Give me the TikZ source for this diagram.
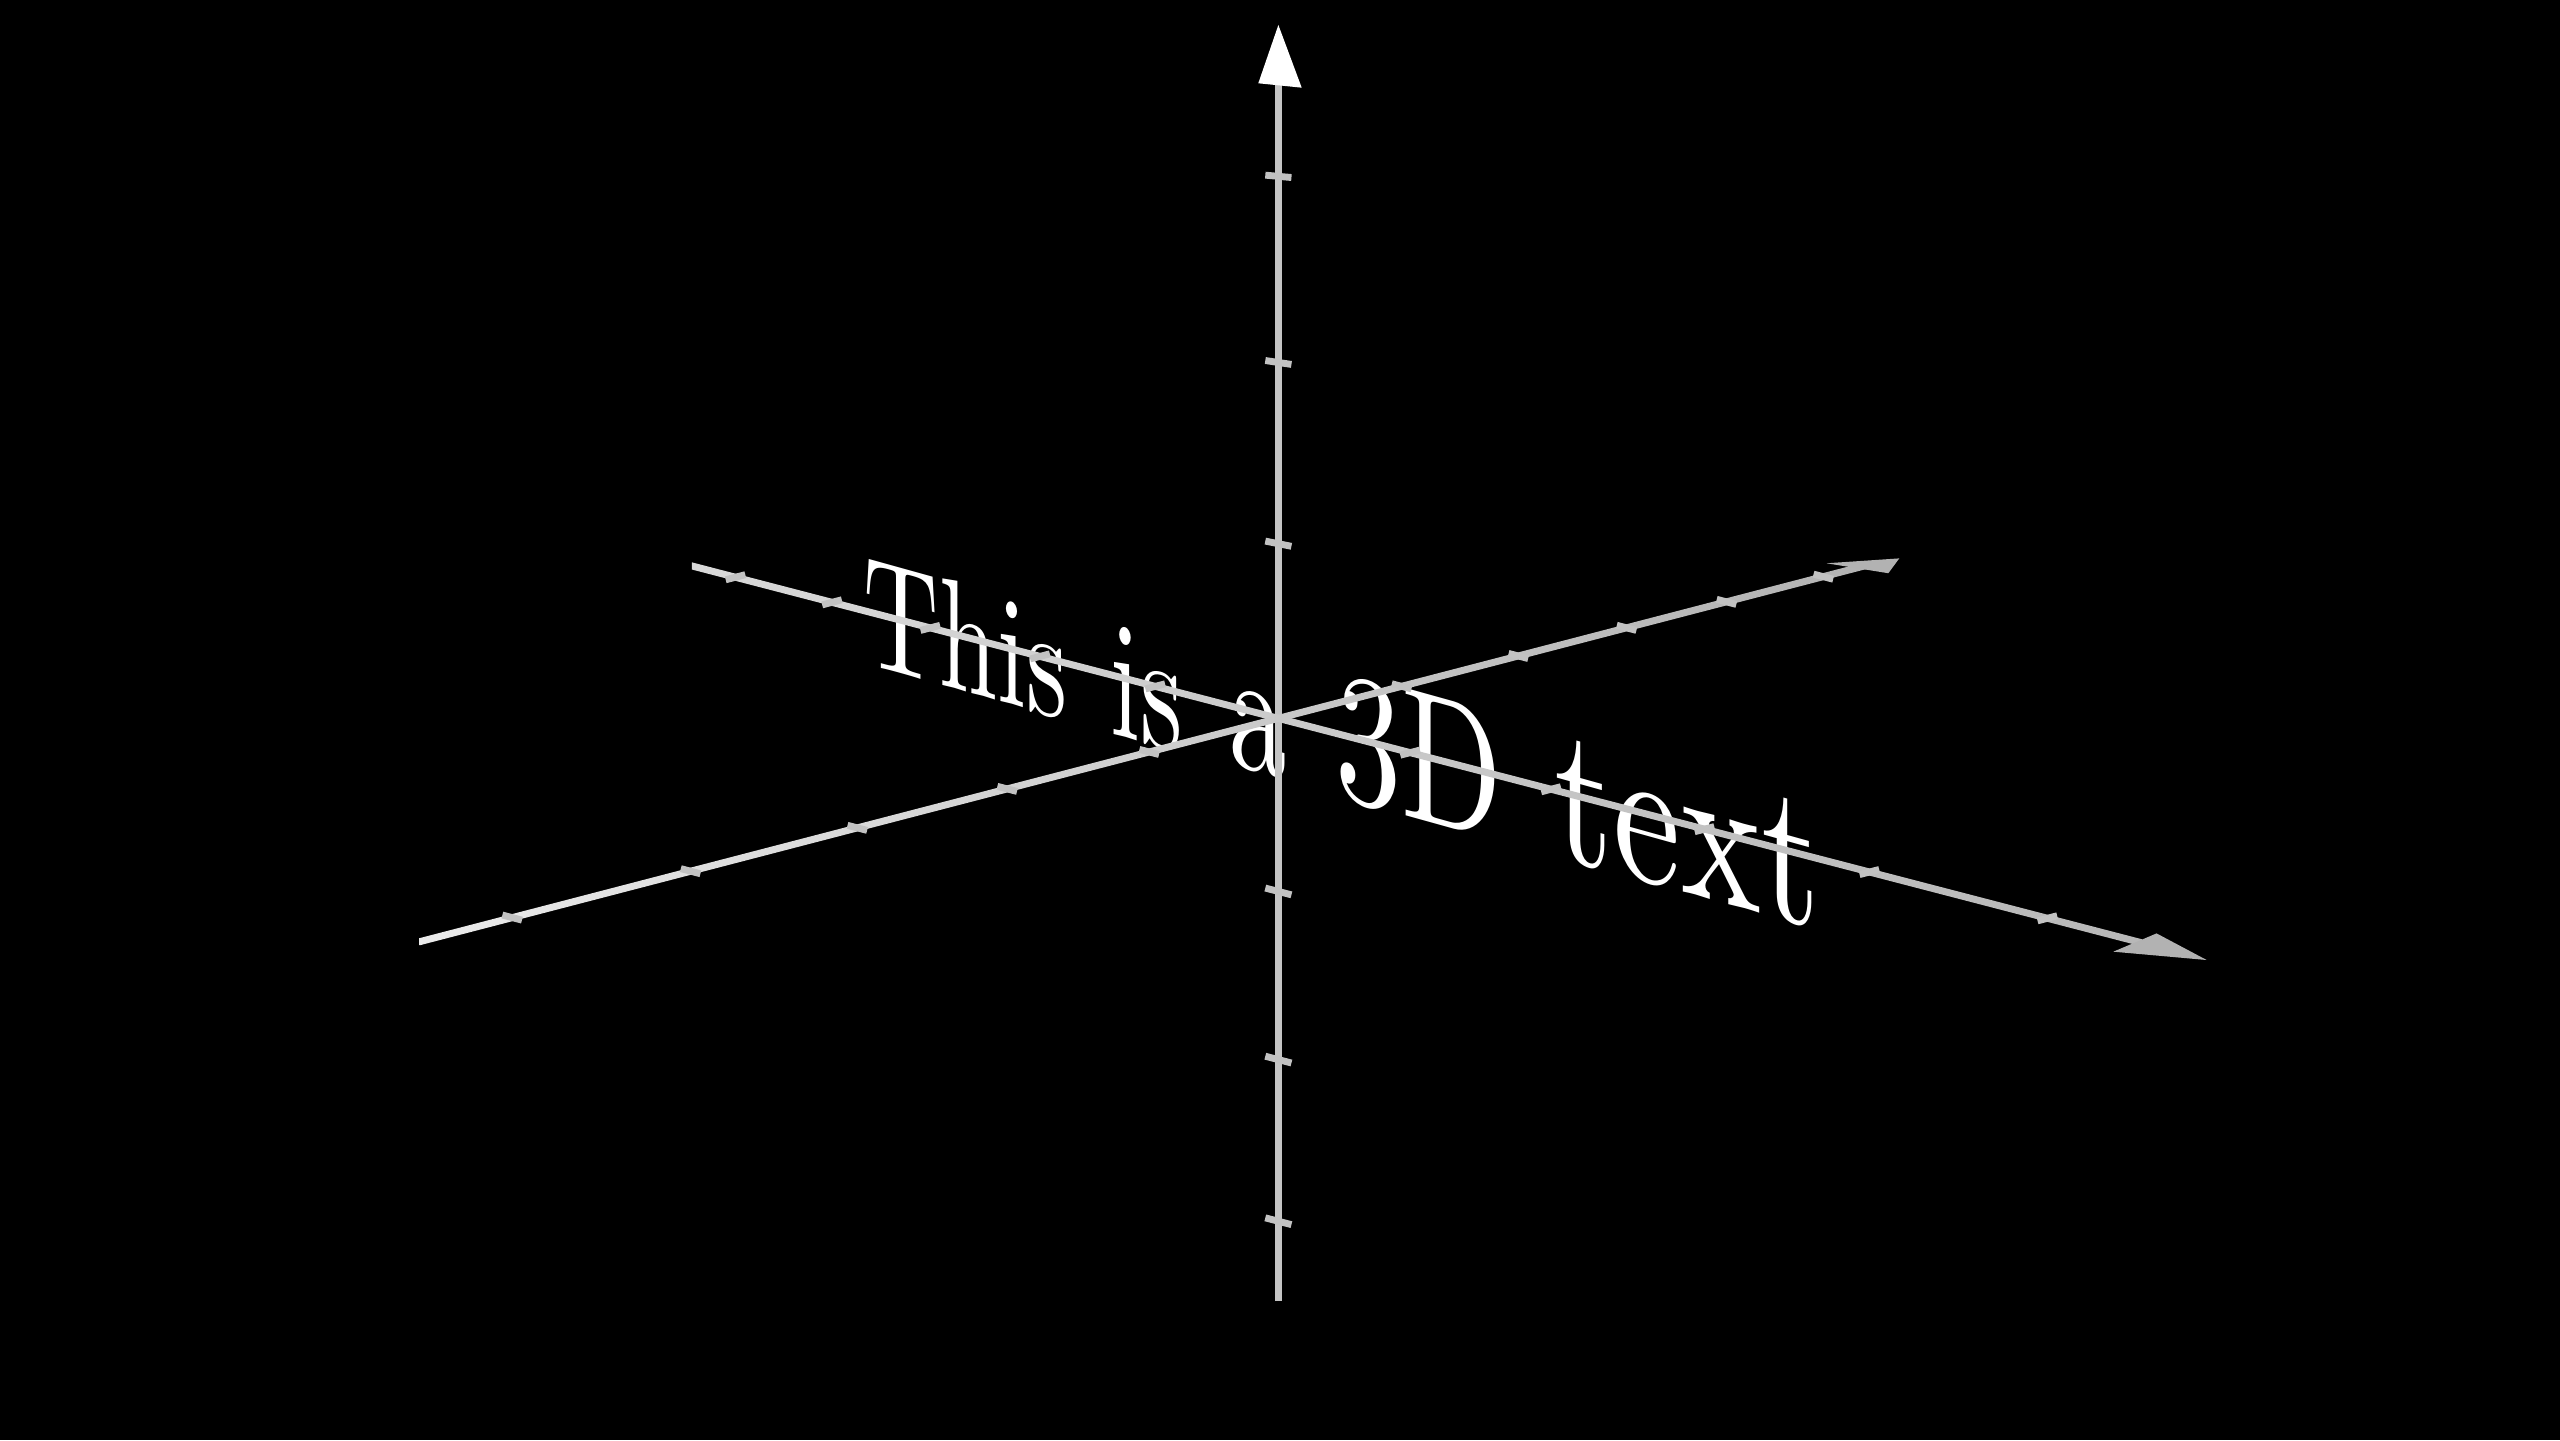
\documentclass[tikz,border=0pt]{standalone}
\usepackage{tikz}

\tikzset{
  axisline/.style={line width=1.2pt, black!23},
  tick/.style={line width=1.2pt, black!24},
  word/.style={white, anchor=base west, inner sep=0pt, outer sep=0pt,
    yslant=-0.278, font=\fontsize{10}{12}\selectfont}
}

\begin{document}
\begin{tikzpicture}[x=0.1mm, y=-0.1mm]
  % Background
  \fill[black] (0,0) rectangle (1568,882);
  \coordinate (O) at (783,440);
  % 3D text, one node per word
  \node[word, xscale=1.82, yscale=2.72] (this) at (529,406.6) {This};
  \node[word, xscale=1.88, yscale=2.92] (is) at (680,449.3) {is};
  \node[word, xscale=2.00, yscale=3.04] (a) at (753.3,467.5) {a};
  \node[word, xscale=2.30, yscale=3.25] (threeD) at (817.7,487.5) {3D};
  \node[word, xscale=2.64, yscale=3.45] (text) at (952.4,524.3) {text};
  % Vertical axis
  \draw[axisline] (783,797) -- (783,52);
  \fill[white] (770.7,51) -- (783,15.3) -- (797.3,53.7) -- cycle;
  \foreach \y/\s in {108/0.09, 222/0.15, 333/0.2, 546/0.26, 649/0.26, 748/0.26}
    \draw[tick] (775,{\y-8*\s}) -- (791,{\y+8*\s});
  % Axis going down to the right
  \shade[left color=black!15, right color=black!28]
    (423.7,344.4) -- (1312,575.3) -- (1312,579.7) -- (423.7,348.8) -- cycle;
  \fill[black!30] (1294.4,582.9) -- (1351.6,588) -- (1320.9,571.7) -- cycle;
  \foreach \x in {450.5,509.6,569.8,637,707.6,863.7,950,1044,1145,1254}
    \draw[tick] ({\x-6},{440+0.26*(\x-783)+1.56}) -- ({\x+6},{440+0.26*(\x-783)-1.56});
  % Axis going up to the right
  \shade[left color=black!8, right color=black!30]
    (257,574.6) -- (1144,343.9) -- (1144,348.3) -- (257,579) -- cycle;
  \fill[black!30] (1118.8,345) -- (1163.3,342) -- (1156.6,351.1) -- cycle;
  \foreach \x in {313.7,423,525.1,616.9,703.9,858.5,930,996.3,1057.5,1116.8}
    \draw[tick] ({\x-6},{440-0.26*(\x-783)-1.56}) -- ({\x+6},{440-0.26*(\x-783)+1.56});
\end{tikzpicture}
\end{document}
